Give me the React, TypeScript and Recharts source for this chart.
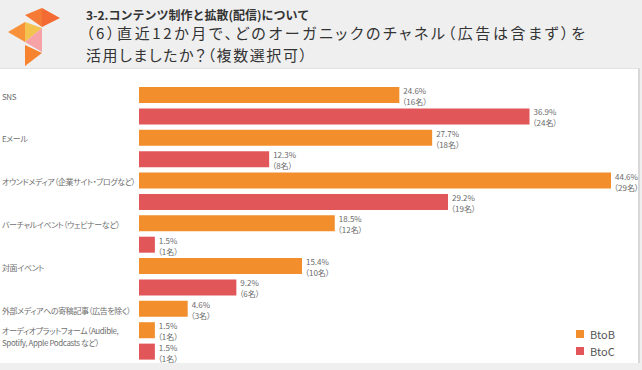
import { BarChart, Bar, XAxis, YAxis, LabelList } from "recharts";

// channels, top to bottom
const categories = [
  "SNS",
  "Eメール",
  "オウンドメディア（企業サイト・ブログなど）",
  "バーチャルイベント（ウェビナーなど）",
  "対面イベント",
  "外部メディアへの寄稿記事（広告を除く）",
  "オーディオプラットフォーム（Audible,\nSpotify, Apple Podcasts など）",
];
const btobPct = [24.6, 27.7, 44.6, 18.5, 15.4, 4.6, 1.5];
const btobCount = [16, 18, 29, 12, 10, 3, 1];
const btocPct = [36.9, 12.3, 29.2, 1.5, 9.2, null, 1.5];
const btocCount = [24, 8, 19, 1, 6, null, 1];
const seriesNames = ["BtoB", "BtoC"];
const colors = ["#F28E2B", "#E15759"];

const titleSub = "3-2.コンテンツ制作と拡散(配信)について";
const titleLines = [
  "（6）直近12か月で、どのオーガニックのチャネル（広告は含まず）を",
  "活用しましたか？（複数選択可）",
];
const titleWidths = [499, 221];

const FONT = '"Noto Sans CJK JP", "Noto Sans", sans-serif';
const PALT = { fontFeatureSettings: '"palt"' };

// one row per bar; BtoC row only when there is a value
const rows = categories.flatMap((cat, i) => {
  const out: any[] = [
    {
      id: `${i}-b`,
      label: cat,
      btob: btobPct[i],
      btoc: null,
      btobText: `${btobPct[i]}%\n（${btobCount[i]}名）`,
      btocText: null,
    },
  ];
  if (btocPct[i] != null) {
    out.push({
      id: `${i}-c`,
      label: "",
      btob: null,
      btoc: btocPct[i],
      btobText: null,
      btocText: `${btocPct[i]}%\n（${btocCount[i]}名）`,
    });
  }
  return out;
});

const maxPct = Math.max(...btobPct, ...(btocPct.filter((v) => v != null) as number[]));

const CategoryTick = (props: any) => {
  const { y, payload } = props;
  const row = rows.find((r) => r.id === payload.value);
  if (!row || !row.label) return null;
  const lines = String(row.label).split("\n");
  const y0 = lines.length > 1 ? y : y + 1;
  return (
    <text
      fontSize={8}
      fill="#6f6f6f"
      fontFamily={FONT}
      letterSpacing={-0.4}
      style={PALT}
      dominantBaseline="central"
    >
      {lines.map((l, i) => (
        <tspan key={i} x={2} y={y0 + i * 12.5}>
          {l}
        </tspan>
      ))}
    </text>
  );
};

const ValueLabel = (props: any) => {
  const { x, y, width, height, value } = props;
  if (value == null || value === "") return null;
  const [a, b] = String(value).split("\n");
  const lx = x + width + 4;
  const cy = y + height / 2;
  return (
    <g fontSize={8} fill="#6a6a6a" fontFamily={FONT} style={PALT}>
      <text x={lx} y={cy - 4.5} dominantBaseline="central">
        {a}
      </text>
      <text x={lx - 1} y={cy + 6.5} dominantBaseline="central">
        {b}
      </text>
    </g>
  );
};

const Logo = () => (
  <svg width={70} height={70} style={{ position: "absolute", left: 0, top: 0 }}>
    <polygon points="25,15 42,8 42,27" fill="#f57a35" />
    <polygon points="42,8 60,18 42,27" fill="#f36a32" />
    <polygon points="8,32 25,22 25,42" fill="#f8923a" />
    <polygon points="25,22 42,28 25,42" fill="#f3c24f" />
    <polygon points="25,42 42,28 42,52" fill="#f6a2a6" />
    <polygon points="25,45 42,53 25,66" fill="#f7832f" />
  </svg>
);

export default function App() {
  return (
    <div
      style={{
        position: "fixed",
        left: 0,
        top: 0,
        width: 642,
        height: 370,
        background: "#efefef",
        overflow: "hidden",
        fontFamily: FONT,
      }}
    >
      <Logo />
      <svg width={642} height={68} style={{ position: "absolute", left: 0, top: 0 }}>
        <text x={86} y={14.5} fontSize={12} fontWeight={700} fill="#333" fontFamily={FONT} dominantBaseline="central">
          {titleSub}
        </text>
        {titleLines.map((t, i) => (
          <text
            key={i}
            x={86}
            y={32.5 + i * 21.5}
            fontSize={15}
            fill="#333"
            fontFamily={FONT}
            style={PALT}
            textLength={titleWidths[i]}
            lengthAdjust="spacing"
            dominantBaseline="central"
          >
            {t}
          </text>
        ))}
      </svg>
      <div
        style={{
          position: "absolute",
          left: 0,
          top: 68,
          width: 638,
          height: 294,
          background: "#fff",
          borderRight: "2px solid #d8d8d8",
          borderTop: "1px solid #e2e2e2",
        }}
      />
      <div style={{ position: "absolute", left: 0, top: 0 }}>
        <BarChart
          width={642}
          height={370}
          data={rows}
          layout="vertical"
          margin={{ top: 84, right: 31, bottom: 8, left: 2 }}
          barSize={16}
        >
          <XAxis type="number" domain={[0, maxPct]} allowDataOverflow hide />
          <YAxis
            type="category"
            dataKey="id"
            width={137}
            axisLine={false}
            tickLine={false}
            interval={0}
            tick={<CategoryTick />}
          />
          <Bar dataKey="btob" name={seriesNames[0]} stackId="s" fill={colors[0]} isAnimationActive={false}>
            <LabelList dataKey="btobText" content={<ValueLabel />} />
          </Bar>
          <Bar dataKey="btoc" name={seriesNames[1]} stackId="s" fill={colors[1]} isAnimationActive={false}>
            <LabelList dataKey="btocText" content={<ValueLabel />} />
          </Bar>
        </BarChart>
      </div>
      <div style={{ position: "absolute", left: 576, top: 325 }}>
        {seriesNames.map((s, i) => (
          <div key={s} style={{ display: "flex", alignItems: "center", height: 17 }}>
            <span style={{ width: 8, height: 8, background: colors[i], display: "inline-block" }} />
            <span style={{ marginLeft: 6, fontSize: 11, color: "#555" }}>{s}</span>
          </div>
        ))}
      </div>
    </div>
  );
}
